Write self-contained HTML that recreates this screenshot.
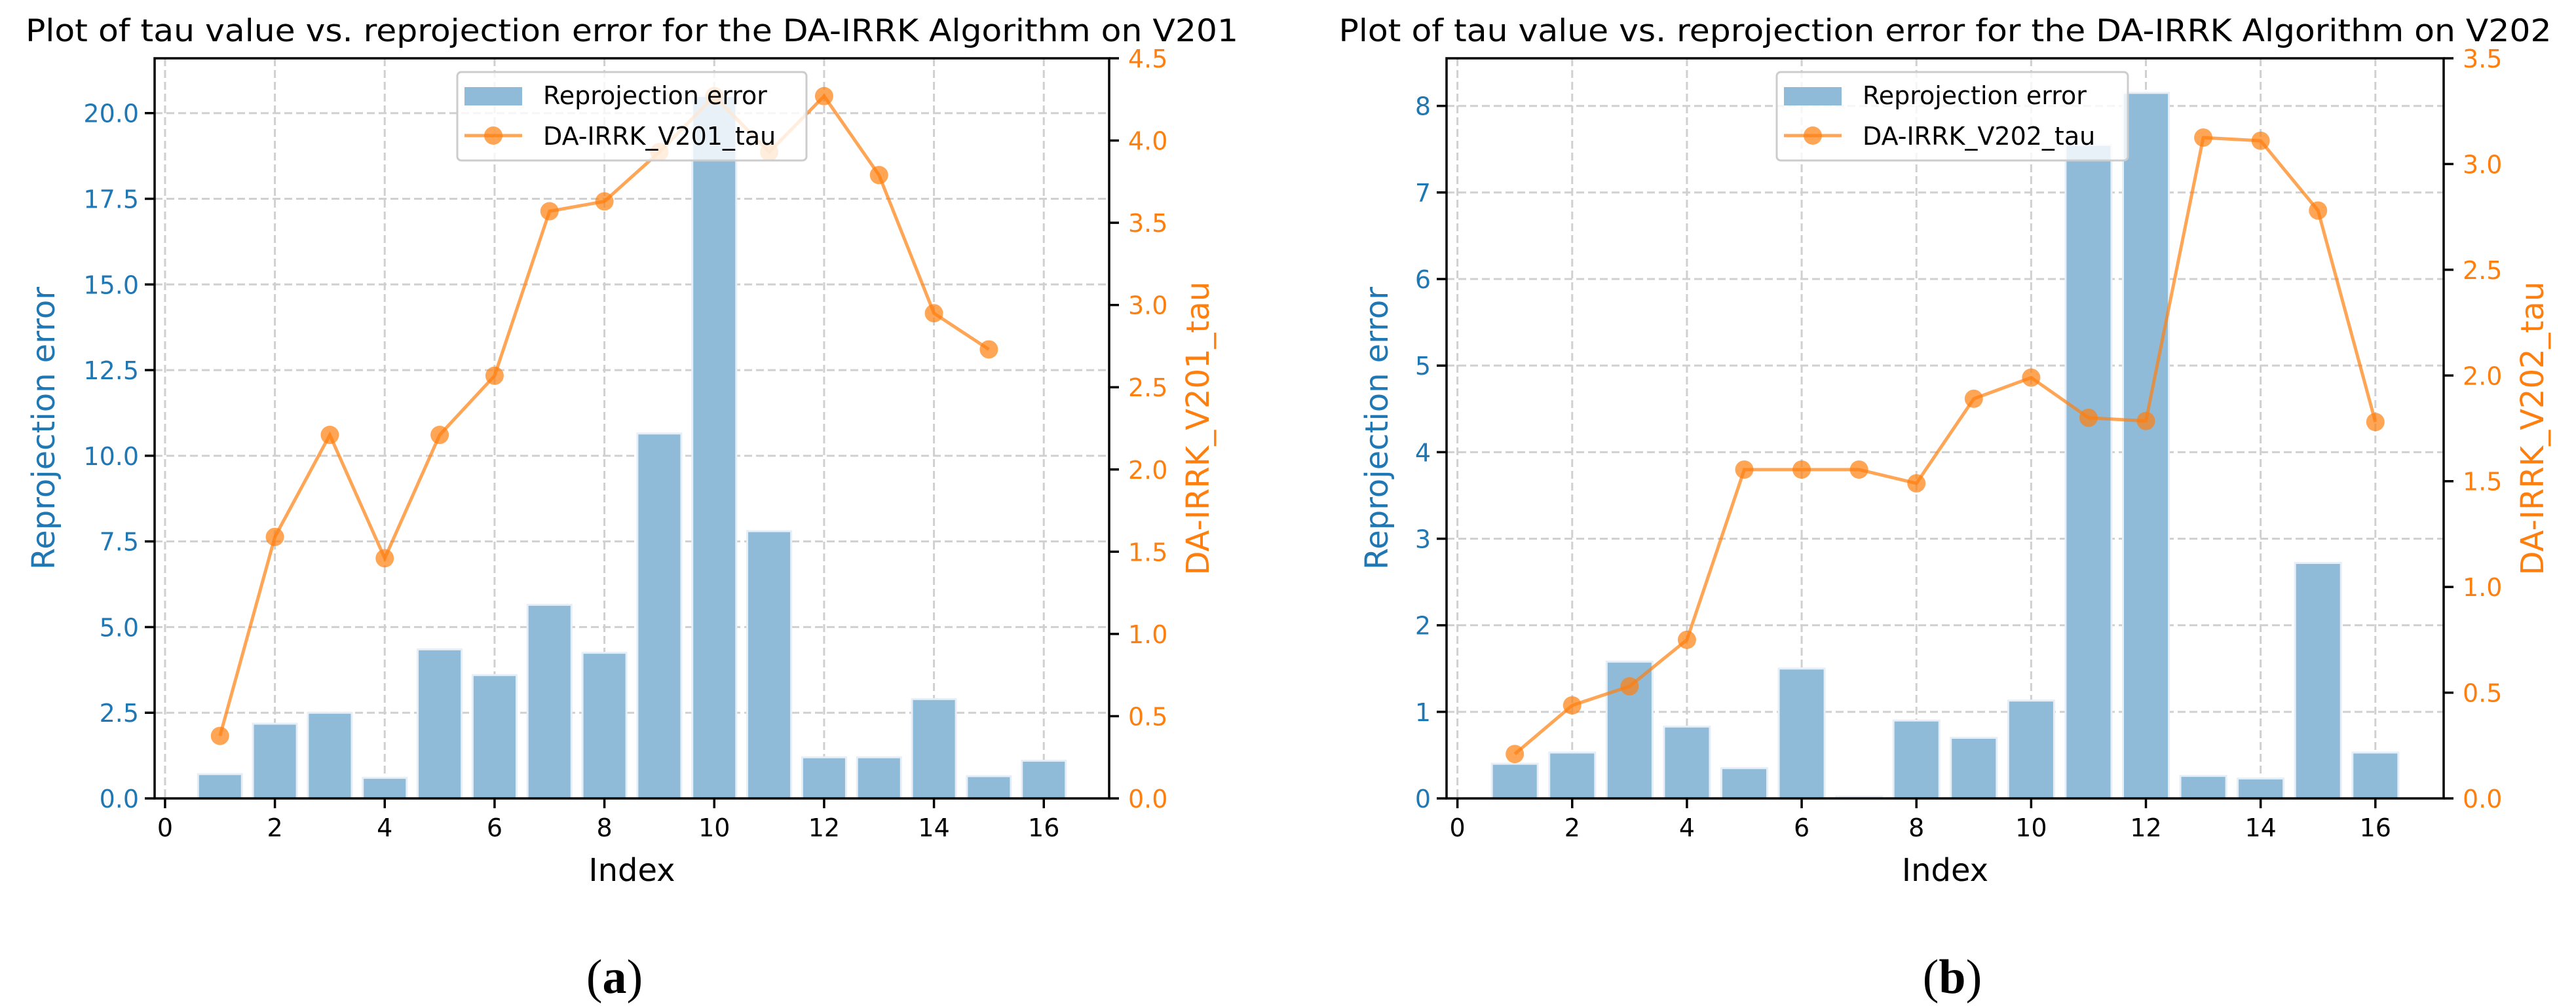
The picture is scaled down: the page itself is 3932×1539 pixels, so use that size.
<!DOCTYPE html>
<html><head><meta charset="utf-8"><style>
html,body{margin:0;padding:0;background:#fff;}
svg{display:block;font-family:"DejaVu Sans","Liberation Sans",sans-serif;}
</style></head><body>
<svg id="fig" width="3932" height="1539" viewBox="0 0 3932 1539" xmlns="http://www.w3.org/2000/svg">
<rect width="3932" height="1539" fill="#fff"/>
</svg>
<script>
// ---- data ----
const indicesA = [1,2,3,4,5,6,7,8,9,10,11,12,13,14,15,16];
const errorA = [0.71,2.18,2.5,0.6,4.35,3.6,5.65,4.25,10.65,20.5,7.8,1.2,1.2,2.9,0.65,1.1];
const tauIdxA = [1,2,3,4,5,6,7,8,9,10,11,12,13,14,15];
const tauA = [0.38,1.59,2.21,1.46,2.21,2.57,3.57,3.63,3.93,4.27,3.93,4.27,3.79,2.95,2.73];
const indicesB = [1,2,3,4,5,6,7,8,9,10,11,12,13,14,15,16];
const errorB = [0.4,0.53,1.58,0.83,0.35,1.5,0.02,0.9,0.7,1.13,7.55,8.15,0.26,0.23,2.72,0.53];
const tauIdxB = [1,2,3,4,5,6,7,8,9,10,11,12,13,14,15,16];
const tauB = [0.21,0.44,0.53,0.75,1.555,1.555,1.555,1.49,1.89,1.99,1.80,1.785,3.125,3.11,2.78,1.78];
const xTicks = [0,2,4,6,8,10,12,14,16];
const leftTicksA = [0,2.5,5,7.5,10,12.5,15,17.5,20];
const leftLabelsA = ["0.0","2.5","5.0","7.5","10.0","12.5","15.0","17.5","20.0"];
const rightTicksA = [0,0.5,1,1.5,2,2.5,3,3.5,4,4.5];
const rightLabelsA = ["0.0","0.5","1.0","1.5","2.0","2.5","3.0","3.5","4.0","4.5"];
const leftTicksB = [0,1,2,3,4,5,6,7,8];
const leftLabelsB = ["0","1","2","3","4","5","6","7","8"];
const rightTicksB = [0,0.5,1,1.5,2,2.5,3,3.5];
const rightLabelsB = ["0.0","0.5","1.0","1.5","2.0","2.5","3.0","3.5"];

const NS = "http://www.w3.org/2000/svg";
const svg = document.getElementById('fig');
function mk(tag, attrs, parent, txt){
  const e = document.createElementNS(NS, tag);
  for (const k in attrs) e.setAttribute(k, attrs[k]);
  if (txt !== undefined) e.textContent = txt;
  (parent||svg).appendChild(e);
  return e;
}
const BLUE="#1f77b4", ORANGE="#ff7f0e";

function panel(o){
  const g = mk('g',{});
  
  
  const L=o.left,R=o.right,T=89,B=1219;
  const xmin=-0.19, xmax=17.19;
  const sx = v => L + (v-xmin)/(xmax-xmin)*(R-L);
  const syL = v => B - v/o.lmax*(B-T);
  const syR = v => B - v/o.rmax*(B-T);
  xTicks.forEach(t=>{ const l=mk('line',{x1:sx(t),x2:sx(t),y1:T,y2:B,stroke:'#d0d0d0','stroke-width':3,'stroke-dasharray':'12,6'},g);
      });
  o.lticks.forEach(t=>{ const l=mk('line',{x1:L,x2:R,y1:syL(t),y2:syL(t),stroke:'#d0d0d0','stroke-width':3,'stroke-dasharray':'12,6'},g);
      });
  o.idx.forEach((x,i)=>{
    const x0=sx(x-0.4), x1=sx(x+0.4), y=syL(o.err[i]);
    const r=mk('rect',{x:x0,y:y,width:x1-x0,height:B-y,fill:'#8fbbd9',stroke:'#e6eff7','stroke-width':3},g);
    
    
  });
  const pts=o.tidx.map((x,i)=>sx(x)+','+syR(o.tau[i])).join(' ');
  const pl=mk('polyline',{points:pts,fill:'none',stroke:ORANGE,'stroke-opacity':0.7,'stroke-width':5},g);
  
  
  o.tidx.forEach((x,i)=>{
    const c=mk('circle',{cx:sx(x),cy:syR(o.tau[i]),r:14,fill:ORANGE,'fill-opacity':0.7},g);
    
    
  });
  mk('rect',{x:L,y:T,width:R-L,height:B-T,fill:'none',stroke:'#000','stroke-width':3.5},g);
  xTicks.forEach(t=>{
    mk('line',{x1:sx(t),x2:sx(t),y1:B,y2:B+15,stroke:'#000','stroke-width':3.5},g);
    const tx=mk('text',{x:sx(t),y:1277,'font-size':38,'text-anchor':'middle',fill:'#000'},g,String(t));
    
    
  });
  o.lticks.forEach((t,i)=>{
    mk('line',{x1:L-15,x2:L,y1:syL(t),y2:syL(t),stroke:'#000','stroke-width':3.5},g);
    const tx=mk('text',{x:L-24,y:syL(t)+14,'font-size':38,'text-anchor':'end',fill:BLUE},g,o.llabels[i]);
    
    
  });
  o.rticks.forEach((t,i)=>{
    mk('line',{x1:R,x2:R+15,y1:syR(t),y2:syR(t),stroke:'#000','stroke-width':3.5},g);
    const tx=mk('text',{x:R+29,y:syR(t)+14,'font-size':38,'text-anchor':'start',fill:ORANGE},g,o.rlabels[i]);
    
    
  });
  const cx=(L+R)/2;
  const ti=mk('text',{x:cx,y:63,'font-size':47,'text-anchor':'middle',fill:'#000',textLength:o.titleLen,lengthAdjust:'spacingAndGlyphs'},g,o.title);
  
  
  const xl=mk('text',{x:cx,y:1345,'font-size':48,'text-anchor':'middle',fill:'#000'},g,'Index');
  
  
  const yl=mk('text',{x:0,y:0,'font-size':48,'text-anchor':'middle',fill:BLUE,transform:'translate('+o.ylabX+',654) rotate(-90)'},g,'Reprojection error');
  
  
  const yr=mk('text',{x:0,y:0,'font-size':48,'text-anchor':'middle',fill:ORANGE,transform:'translate('+o.yrabX+',654) rotate(-90)'},g,o.tauName);
  
  
  const lg=mk('g',{},g);
  
  
  const lx=o.legX, lw=o.legW;
  mk('rect',{x:lx,y:110,width:lw,height:135,rx:6,fill:'#fff','fill-opacity':0.8,stroke:'#cccccc','stroke-width':3},lg);
  mk('rect',{x:lx+11,y:133,width:88,height:28,fill:'#8fbbd9'},lg);
  mk('line',{x1:lx+11,x2:lx+99,y1:207,y2:207,stroke:ORANGE,'stroke-opacity':0.7,'stroke-width':5},lg);
  mk('circle',{cx:lx+55,cy:207,r:14,fill:ORANGE,'fill-opacity':0.7},lg);
  const e1=mk('text',{x:lx+131,y:159,'font-size':38,fill:'#000'},lg,'Reprojection error');
  
  
  const e2=mk('text',{x:lx+131,y:221,'font-size':38,fill:'#000'},lg,o.tauName);
  
  
  const cap=mk('text',{x:o.capX,y:1516,'font-size':74,'text-anchor':'middle',fill:'#000','font-family':'"Liberation Serif",serif'},g);
  
  
  mk('tspan',{},cap,'(');
  mk('tspan',{'font-weight':'bold'},cap,o.cap);
  mk('tspan',{},cap,')');
}

panel({name:'chart-v201',left:236,right:1693,lmax:21.6,rmax:4.5,idx:indicesA,err:errorA,tidx:tauIdxA,tau:tauA,
  lticks:leftTicksA,llabels:leftLabelsA,rticks:rightTicksA,rlabels:rightLabelsA,
  title:'Plot of tau value vs. reprojection error for the DA-IRRK Algorithm on V201',titleLen:1851,
  tauName:'DA-IRRK_V201_tau',ylabX:83,yrabX:1845,legX:698,legW:533,capX:938,cap:'a'});
panel({name:'chart-v202',left:2208,right:3730,lmax:8.55,rmax:3.5,idx:indicesB,err:errorB,tidx:tauIdxB,tau:tauB,
  lticks:leftTicksB,llabels:leftLabelsB,rticks:rightTicksB,rlabels:rightLabelsB,
  title:'Plot of tau value vs. reprojection error for the DA-IRRK Algorithm on V202',titleLen:1851,
  tauName:'DA-IRRK_V202_tau',ylabX:2118,yrabX:3882,legX:2712,legW:536,capX:2980,cap:'b'});
</script>
</body></html>
